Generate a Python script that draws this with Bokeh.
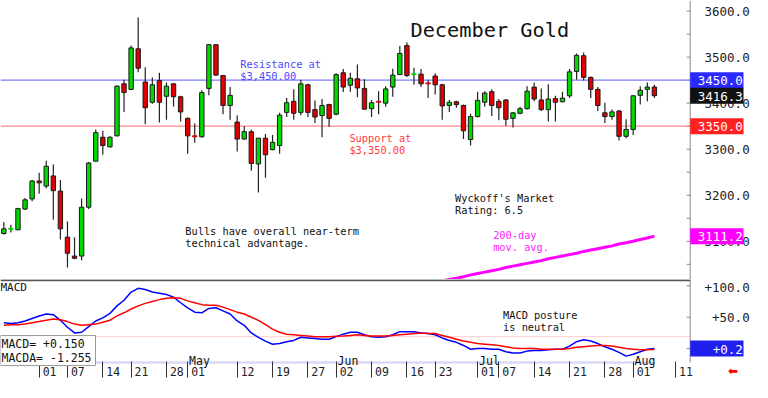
from bokeh.plotting import figure
from bokeh.models import (Range1d, Label, Span, FixedTicker, SingleIntervalTicker,
                          PrintfTickFormatter, ColumnDataSource, AllLabels)
from bokeh.layouts import column
from bokeh.embed import file_html
from bokeh.resources import INLINE

FONT = "DejaVu Sans Mono"
NB = "\u00a0"

# ---------------- data ----------------
dates = [
    "2025-03-25", "2025-03-26", "2025-03-27", "2025-03-28", "2025-03-31",
    "2025-04-01", "2025-04-02", "2025-04-03", "2025-04-04", "2025-04-07", "2025-04-08", "2025-04-09",
    "2025-04-10", "2025-04-11", "2025-04-14", "2025-04-15", "2025-04-16", "2025-04-17", "2025-04-21",
    "2025-04-22", "2025-04-23", "2025-04-24", "2025-04-25", "2025-04-28", "2025-04-29", "2025-04-30",
    "2025-05-01", "2025-05-02", "2025-05-05", "2025-05-06", "2025-05-07", "2025-05-08", "2025-05-09",
    "2025-05-12", "2025-05-13", "2025-05-14", "2025-05-15", "2025-05-16", "2025-05-19", "2025-05-20",
    "2025-05-21", "2025-05-22", "2025-05-23", "2025-05-27", "2025-05-28", "2025-05-29", "2025-05-30",
    "2025-06-02", "2025-06-03", "2025-06-04", "2025-06-05", "2025-06-06", "2025-06-09", "2025-06-10",
    "2025-06-11", "2025-06-12", "2025-06-13", "2025-06-16", "2025-06-17", "2025-06-18", "2025-06-20",
    "2025-06-23", "2025-06-24", "2025-06-25", "2025-06-26", "2025-06-27", "2025-06-30",
    "2025-07-01", "2025-07-02", "2025-07-03", "2025-07-07", "2025-07-08", "2025-07-09", "2025-07-10",
    "2025-07-11", "2025-07-14", "2025-07-15", "2025-07-16", "2025-07-17", "2025-07-18", "2025-07-21",
    "2025-07-22", "2025-07-23", "2025-07-24", "2025-07-25", "2025-07-28", "2025-07-29", "2025-07-30",
    "2025-07-31", "2025-08-01", "2025-08-04", "2025-08-05", "2025-08-06",
]
future_dates = ["2025-08-07", "2025-08-08", "2025-08-11"]

opens = [3117, 3126, 3125, 3170, 3192, 3231, 3220, 3242, 3209, 3109,
         3068, 3068, 3174, 3274, 3326, 3305, 3329, 3442, 3430, 3518,
         3446, 3402, 3449, 3415, 3442, 3414, 3367, 3329, 3327, 3432,
         3527, 3460, 3395, 3359, 3322, 3338, 3268, 3324, 3299, 3308,
         3380, 3404, 3380, 3440, 3386, 3373, 3397, 3376, 3466, 3439,
         3453, 3432, 3388, 3404, 3400, 3435, 3462, 3525, 3462, 3463,
         3444, 3459, 3440, 3395, 3403, 3395, 3321, 3371, 3402, 3425,
         3404, 3407, 3367, 3378, 3388, 3435, 3407, 3386, 3410, 3403,
         3416, 3469, 3503, 3456, 3430, 3379, 3371, 3383, 3328, 3343,
         3417, 3430, 3435]
highs = [3142, 3136, 3173, 3194, 3233, 3249, 3275, 3267, 3233, 3143,
         3109, 3193, 3272, 3343, 3340, 3328, 3439, 3451, 3525, 3586,
         3478, 3456, 3466, 3445, 3443, 3416, 3369, 3356, 3428, 3528,
         3528, 3461, 3435, 3374, 3350, 3343, 3324, 3333, 3331, 3379,
         3411, 3430, 3451, 3442, 3406, 3409, 3399, 3465, 3474, 3466,
         3484, 3452, 3407, 3426, 3437, 3475, 3524, 3532, 3477, 3474,
         3451, 3465, 3442, 3407, 3405, 3397, 3377, 3425, 3426, 3430,
         3409, 3409, 3381, 3392, 3437, 3445, 3432, 3441, 3416, 3425,
         3474, 3508, 3510, 3458, 3435, 3401, 3386, 3385, 3365, 3417,
         3437, 3445, 3440]
lows = [3114, 3119, 3124, 3168, 3187, 3203, 3215, 3147, 3104, 3043,
        3061, 3059, 3170, 3274, 3288, 3304, 3328, 3381, 3428, 3467,
        3354, 3399, 3358, 3364, 3393, 3360, 3290, 3314, 3325, 3417,
        3459, 3376, 3364, 3295, 3321, 3253, 3206, 3238, 3298, 3290,
        3370, 3364, 3374, 3370, 3357, 3326, 3349, 3374, 3424, 3425,
        3413, 3387, 3370, 3376, 3392, 3414, 3461, 3457, 3440, 3435,
        3411, 3419, 3364, 3381, 3390, 3322, 3308, 3369, 3392, 3372,
        3363, 3351, 3347, 3376, 3386, 3404, 3383, 3360, 3360, 3402,
        3411, 3451, 3449, 3411, 3383, 3357, 3364, 3319, 3324, 3331,
        3397, 3404, 3411]
closes = [3127, 3128, 3171, 3190, 3231, 3227, 3263, 3210, 3127, 3074,
          3063, 3174, 3270, 3336, 3308, 3326, 3437, 3423, 3520, 3476,
          3390, 3440, 3402, 3437, 3414, 3381, 3329, 3327, 3423, 3527,
          3461, 3395, 3417, 3322, 3338, 3269, 3324, 3288, 3315, 3374,
          3401, 3378, 3442, 3380, 3370, 3395, 3367, 3462, 3435, 3454,
          3433, 3387, 3401, 3402, 3431, 3461, 3508, 3460, 3464, 3442,
          3442, 3440, 3394, 3402, 3397, 3340, 3371, 3406, 3422, 3395,
          3390, 3365, 3379, 3388, 3426, 3409, 3386, 3409, 3402, 3411,
          3468, 3504, 3456, 3430, 3395, 3371, 3381, 3328, 3343, 3416,
          3428, 3435, 3416.3]

# 200-day moving average (visible part, from 2025-06-24 on)
ma_dates = dates[62:]
ma_values = [3014, 3017, 3020, 3023, 3027, 3030, 3033, 3036, 3039, 3043,
             3046, 3049, 3052, 3055, 3058, 3062, 3065, 3068, 3071, 3074,
             3078, 3081, 3084, 3087, 3090, 3094, 3097, 3100, 3104, 3107, 3111.2]

macd = [41, 40, 41, 44, 48, 52, 55, 54, 45, 34,
        25, 26, 35, 44, 49, 56, 68, 77, 90, 96,
        94, 90, 88, 86, 82, 73, 65, 58, 57, 64,
        65, 60, 55, 44, 37, 25, 18, 12, 7, 8,
        11, 13, 18, 17, 16, 15, 15, 19, 23, 26,
        26, 22, 19, 18, 19, 22, 27, 27, 27, 25,
        24, 22, 17, 13, 10, 5, -1, 0, 0, -1,
        -1, -5, -7, -7, -4, -3, -3, -2, -1, -1,
        4, 11, 14, 12, 8, 3, -1, -6, -12, -9,
        -5, -1, 0.15]
macda = [37, 38, 38, 39, 41, 43, 45, 47, 46, 43,
         39, 37, 38, 39, 42, 45, 52, 57, 63, 68,
         72, 75, 78, 80, 81, 80, 76, 73, 70, 69,
         69, 66, 62, 58, 55, 50, 45, 38, 31, 26,
         23, 22, 21, 20, 19, 19, 19, 19.5, 20, 21,
         22, 21, 20, 20, 20, 21, 22, 23, 24, 25,
         24, 24, 21, 18, 15, 12, 10, 8, 7, 6,
         5, 3, 1, 0, 0, 0, -1, -1, -1, -1,
         0, 2, 3, 4, 5, 5, 4, 2, 0, -1,
         -2, -2, -1.255]
macd_axis_text = "+0.2"
macd_ref_level = 19

tick_dates = ["2025-04-01", "2025-04-07", "2025-04-14", "2025-04-21", "2025-04-28",
              "2025-05-01", "2025-05-12", "2025-05-19", "2025-05-27", "2025-06-02",
              "2025-06-09", "2025-06-16", "2025-06-23", "2025-07-01", "2025-07-07",
              "2025-07-14", "2025-07-21", "2025-07-28", "2025-08-01", "2025-08-11"]
month_dates = ["2025-05-01", "2025-06-02", "2025-07-01", "2025-08-01"]
month_names = ["May", "Jun", "Jul", "Aug"]

resistance = 3450.0
support = 3350.0

# ---------------- derived ----------------
all_dates = dates + future_dates
pos = {d: i for i, d in enumerate(all_dates)}
xs = [pos[d] for d in dates]
body_top = [max(o, c) for o, c in zip(opens, closes)]
body_bot = [min(o, c) for o, c in zip(opens, closes)]
fill = ["#00d800" if c >= o else "#e00000" for o, c in zip(opens, closes)]
edge = [f if abs(c - o) < 3 else "#1a1a1a" for f, o, c in zip(fill, opens, closes)]
src = ColumnDataSource(dict(x=xs, o=opens, h=highs, l=lows, c=closes,
                            top=body_top, bot=body_bot, fill=fill, edge=edge))

X0 = -0.47
AX = 97.06                      # position of the price/MACD scale line
XR = Range1d(X0, 104.6)
MACD_TOP, MACD_BOT = 110, -22   # visible MACD panel (label row below it)


def base_fig(h, yr, xloc):
    p = figure(width=752, height=h, x_range=XR, y_range=yr, x_axis_location=xloc,
               y_axis_location="right", output_backend="svg", toolbar_location=None,
               min_border_left=0, min_border_top=0, min_border_bottom=0,
               min_border_right=0, outline_line_color=None,
               background_fill_color="white", border_fill_color="white")
    p.xgrid.visible = False
    p.ygrid.visible = False
    ax = p.yaxis[0]
    ax.axis_line_color = None
    ax.major_tick_line_color = None
    ax.minor_tick_line_color = None
    ax.major_label_text_font = FONT
    ax.major_label_text_font_size = "12.5px"
    ax.major_label_text_color = "#222222"
    ax.major_label_standoff = -45
    return p


def txt(p, x, y, text, color="#111111", size="10.3px", baseline="top"):
    p.add_layout(Label(x=x, y=y, text=text, text_font=FONT, text_font_size=size,
                       text_color=color, text_align="left", text_baseline=baseline,
                       text_line_height=1.0))


def tag(p, y, text, bg):
    p.add_layout(Label(x=AX, y=y, text=NB + text, text_font=FONT,
                       text_font_size="12.5px", text_color="white", text_align="left",
                       text_baseline="middle", background_fill_color=bg,
                       padding=dict(left=0, right=12, top=1, bottom=0)))


def hline(p, y, color, width=1.2):
    p.segment(x0=[X0], y0=[y], x1=[AX], y1=[y], line_color=color, line_width=width)


# ---------------- price panel ----------------
p1 = base_fig(279, Range1d(3017, 3623), None)
p1.yaxis[0].ticker = SingleIntervalTicker(interval=100)
p1.yaxis[0].formatter = PrintfTickFormatter(format="%.1f")

p1.add_layout(Span(location=AX, dimension="height", line_color="#8a8a8a", line_width=1))
price_ticks = list(range(3050, 3601, 50))
p1.scatter([AX - 0.22] * len(price_ticks), price_ticks, marker="dash", size=4,
           line_color="#8a8a8a")

hline(p1, resistance, "#7b7bff")
hline(p1, support, "#ff8a8a")

p1.segment(x0="x", y0="l", x1="x", y1="h", source=src, line_color="#222222", line_width=1.2)
p1.vbar(x="x", width=0.62, top="top", bottom="bot", fill_color="fill", line_color="edge",
        line_width=1, source=src)
p1.line([pos[d] for d in ma_dates], ma_values, line_color="#ff00ff", line_width=3)

txt(p1, 57.5, 3559, "December Gold", size="20.3px", baseline="alphabetic")
txt(p1, 33.45, 3499, "Resistance at\n$3,450.00", color="#4a4aff")
txt(p1, 48.87, 3337, "Support at\n$3,350.00", color="#ff3c3c")
txt(p1, 25.66, 3135, "Bulls have overall near-term\ntechnical advantage.")
txt(p1, 63.8, 3207, "Wyckoff's Market\nRating: 6.5")
txt(p1, 69.2, 3126, "200-day\nmov. avg.", color="#ff22ff")

tag(p1, resistance, f"{resistance:.1f}", "#2a2aff")
tag(p1, closes[-1], f"{closes[-1]:.1f}", "#111111")
tag(p1, support, f"{support:.1f}", "#ff2020")
tag(p1, ma_values[-1], f"{ma_values[-1]:.1f}", "#ff00ff")

# ---------------- MACD panel ----------------
p2 = base_fig(102, Range1d(-46, MACD_TOP), "below")
p2.yaxis[0].ticker = FixedTicker(ticks=[50, 100])
p2.yaxis[0].major_label_overrides = {50: NB + "+50.0", 100: "+100.0"}

p2.segment(x0=[AX], y0=[MACD_BOT], x1=[AX], y1=[MACD_TOP], line_color="#8a8a8a", line_width=1)
p2.scatter([AX - 0.22] * 3, [0, 50, 100], marker="dash", size=4, line_color="#8a8a8a")
hline(p2, macd_ref_level, "#ffcccc", 1)
hline(p2, 108.8, "#555555", 2)
p2.segment(x0=[xs[0]], y0=[MACD_BOT], x1=[xs[-1]], y1=[MACD_BOT],
           line_color="#dadaf6", line_width=2.5)

p2.line(xs, macd, line_color="#0000ff", line_width=1.5)
p2.line(xs, macda, line_color="#ff0000", line_width=1.5)

xa = p2.xaxis[0]
xa.ticker = FixedTicker(ticks=[pos[d] for d in tick_dates])
xa.major_label_overrides = {pos[d]: NB * 3 + d[-2:] for d in tick_dates}
xa.major_label_policy = AllLabels()
xa.axis_line_color = None
xa.major_tick_in = 16
xa.major_tick_out = 0
xa.major_tick_line_color = "#333333"
xa.minor_tick_line_color = None
xa.major_label_standoff = -13
xa.major_label_text_font = FONT
xa.major_label_text_font_size = "11.5px"
xa.major_label_text_color = "#222222"

for d, m in zip(month_dates, month_names):
    txt(p2, pos[d] + 0.2, -20.5, m, size="11.5px", baseline="alphabetic")

txt(p2, X0, 107, "MACD", size="11px")
txt(p2, 70.6, 63, "MACD posture\nis neutral")

p2.add_layout(Label(x=X0, y=-27, text=f"MACD=  {macd[-1]:+.3f}\nMACDA= {macda[-1]:+.3f}",
                    text_font=FONT, text_font_size="11.5px", text_color="#111111",
                    text_align="left", text_baseline="bottom", text_line_height=1.0,
                    background_fill_color="white", border_line_color="#999999",
                    padding=dict(left=1, right=4, top=1, bottom=1)))

tag(p2, macd[-1], NB * 2 + macd_axis_text, "#2020ee")

p2.add_layout(Label(x=102.4, y=-36, text="\u2b05", text_font="DejaVu Sans",
                    text_font_size="12px", text_color="#ff0000", text_align="left",
                    text_baseline="middle"))

layout = column(p1, p2, spacing=0)
open("out.html", "w").write(file_html(layout, INLINE))
